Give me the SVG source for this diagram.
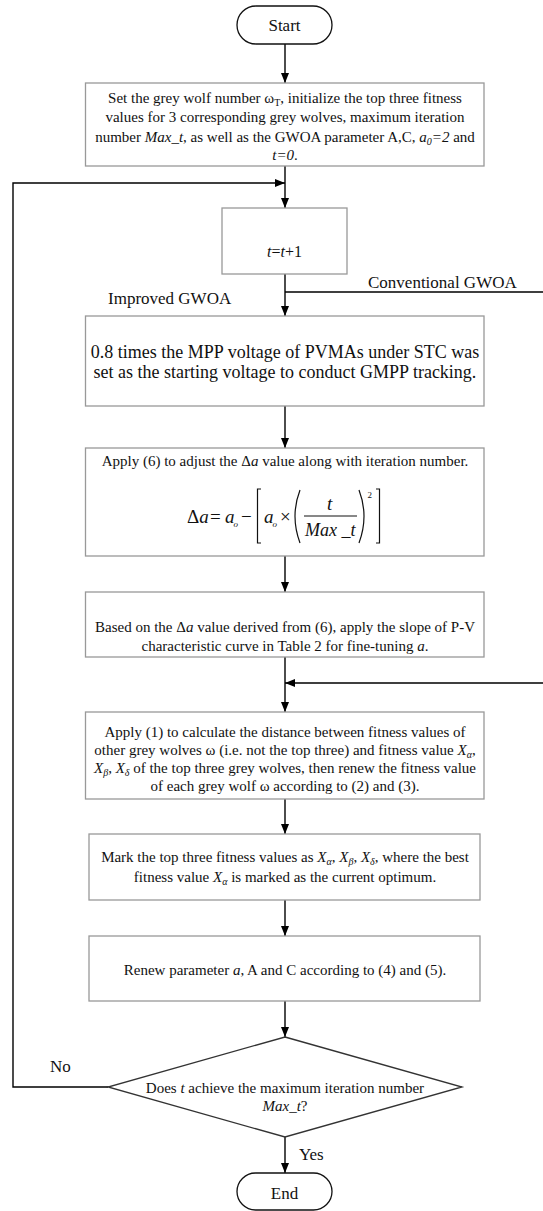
<svg xmlns="http://www.w3.org/2000/svg" width="543" height="1211" viewBox="0 0 543 1211" font-family="'Liberation Serif', 'Times New Roman', serif">
<defs>
<marker id="arr" markerUnits="userSpaceOnUse" markerWidth="10" markerHeight="10" refX="10" refY="5" orient="auto">
<path d="M0,1 L10,5 L0,9 Z" fill="#000"/>
</marker>
<style>
text{font-family:"Liberation Serif","Times New Roman",serif;fill:#111;}
.t15{font-family:"Liberation Serif",serif;font-size:15px;text-anchor:middle;}
.t18{font-family:"Liberation Serif",serif;font-size:18px;text-anchor:middle;}
.lbl{font-family:"Liberation Serif",serif;font-size:17px;}
.box{fill:#fff;stroke:#999;stroke-width:1.3;}
.term{fill:#fff;stroke:#111;stroke-width:1.3;}
.dia{fill:#fff;stroke:#333;stroke-width:1.3;}
.con{fill:none;stroke:#000;stroke-width:1.4;}
.eq{font-family:"Liberation Serif",serif;font-size:19px;font-style:italic;}
.eqn{font-family:"Liberation Serif",serif;font-size:19px;}
.sub{font-size:10px;}
.i{font-style:italic;}
</style>
</defs>

<g id="connectors">
<path class="con" d="M285,44 V83" marker-end="url(#arr)"/>
<path class="con" d="M285,166 V208" marker-end="url(#arr)"/>
<path class="con" d="M285,274 V316" marker-end="url(#arr)"/>
<path class="con" d="M285,292 H546 V683 H285" marker-end="url(#arr)"/>
<path class="con" d="M285,406 V448" marker-end="url(#arr)"/>
<path class="con" d="M285,556 V592" marker-end="url(#arr)"/>
<path class="con" d="M285,657 V712" marker-end="url(#arr)"/>
<path class="con" d="M285,799 V834" marker-end="url(#arr)"/>
<path class="con" d="M285,900 V936" marker-end="url(#arr)"/>
<path class="con" d="M285,1001 V1037" marker-end="url(#arr)"/>
<path class="con" d="M285,1137 V1173" marker-end="url(#arr)"/>
<path class="con" d="M108,1087 H13 V183 H285" marker-end="url(#arr)"/>
<text class="lbl" x="368" y="288">Conventional GWOA</text>
<text class="lbl" x="108" y="304">Improved GWOA</text>
<text class="lbl" x="50" y="1072">No</text>
<text class="lbl" x="299" y="1160">Yes</text>
</g>

<g id="start">
<rect class="term" x="237" y="6" width="95" height="38" rx="19"/>
<text class="t18" x="284.5" y="31" style="font-size:17px">Start</text>
</g>

<g id="init">
<rect class="box" x="85.5" y="83" width="398.5" height="83"/>
<text class="t15" x="285" y="103">Set the grey wolf number ω<tspan class="sub" dy="3">T</tspan><tspan dy="-3">, initialize the top three fitness</tspan></text>
<text class="t15" x="285" y="122">values for 3 corresponding grey wolves, maximum iteration</text>
<text class="t15" x="285" y="141.5">number <tspan class="i">Max_t</tspan>, as well as the GWOA parameter A,C, <tspan class="i">a</tspan><tspan class="i sub" dy="3">0</tspan><tspan class="i" dy="-3">=2</tspan> and</text>
<text class="t15" x="285" y="160"><tspan class="i">t=0</tspan>.</text>
</g>

<g id="increment">
<rect class="box" x="222" y="208" width="125" height="66"/>
<text class="t15" x="284.5" y="257" style="font-size:16px"><tspan class="i">t</tspan>=<tspan class="i">t</tspan>+1</text>
</g>

<g id="start-voltage">
<rect class="box" x="85.5" y="316" width="398.5" height="90"/>
<text class="t18" x="285" y="358">0.8 times the MPP voltage of PVMAs under STC was</text>
<text class="t18" x="285" y="378">set as the starting voltage to conduct GMPP tracking.</text>
</g>

<g id="adjust-a">
<rect class="box" x="85.5" y="448" width="398.5" height="108"/>
<text class="t15" x="285" y="466">Apply (6) to adjust the Δ<tspan class="i">a</tspan> value along with iteration number.</text>
<text class="eqn" x="187" y="523">Δ<tspan class="i">a</tspan></text>
<text class="eqn" x="210" y="523">=</text>
<text class="eq" x="225" y="523">a</text>
<text class="eq" x="233.5" y="527" style="font-size:9px">o</text>
<text class="eqn" x="241" y="523">−</text>
<text class="eq" x="264" y="523">a</text>
<text class="eq" x="272.5" y="527" style="font-size:9px">o</text>
<text class="eqn" x="280" y="523">×</text>
<text class="eq" x="327" y="510">t</text>
<text class="eq" x="305" y="536" style="font-size:18px">Max _t</text>
<text class="eqn" x="367.5" y="498" style="font-size:9px">2</text>
<path d="M261,489 H257.5 V543 H261 M376,489 H379.5 V543 H376" fill="none" stroke="#111" stroke-width="1.2"/>
<path d="M300,490 Q290,516 300,543 M359,490 Q369,516 359,543" fill="none" stroke="#111" stroke-width="1.2"/>
<path d="M304,516 H357" stroke="#111" stroke-width="1"/>
</g>

<g id="fine-tune">
<rect class="box" x="85.5" y="592" width="398.5" height="65"/>
<text class="t15" x="285" y="632">Based on the Δ<tspan class="i">a</tspan> value derived from (6), apply the slope of P-V</text>
<text class="t15" x="285" y="651">characteristic curve in Table 2 for fine-tuning <tspan class="i">a</tspan>.</text>
</g>

<g id="distance">
<rect class="box" x="85.5" y="712" width="398.5" height="87"/>
<text class="t15" x="285" y="737">Apply (1) to calculate the distance between fitness values of</text>
<text class="t15" x="285" y="755">other grey wolves ω (i.e. not the top three) and fitness value <tspan class="i">X</tspan><tspan class="i sub" dy="3">α</tspan><tspan dy="-3">,</tspan></text>
<text class="t15" x="285" y="773"><tspan class="i">X</tspan><tspan class="i sub" dy="3">β</tspan><tspan dy="-3">, </tspan><tspan class="i">X</tspan><tspan class="i sub" dy="3">δ</tspan><tspan dy="-3"> of the top three grey wolves, then renew the fitness value</tspan></text>
<text class="t15" x="285" y="791">of each grey wolf ω according to (2) and (3).</text>
</g>

<g id="mark">
<rect class="box" x="89" y="834" width="391" height="66"/>
<text class="t15" x="285" y="862">Mark the top three fitness values as <tspan class="i">X</tspan><tspan class="i sub" dy="3">α</tspan><tspan dy="-3">, </tspan><tspan class="i">X</tspan><tspan class="i sub" dy="3">β</tspan><tspan dy="-3">, </tspan><tspan class="i">X</tspan><tspan class="i sub" dy="3">δ</tspan><tspan dy="-3">, where the best</tspan></text>
<text class="t15" x="285" y="882">fitness value <tspan class="i">X</tspan><tspan class="i sub" dy="3">α</tspan><tspan dy="-3"> is marked as the current optimum.</tspan></text>
</g>

<g id="renew">
<rect class="box" x="89" y="936" width="391" height="65"/>
<text class="t15" x="285" y="975">Renew parameter <tspan class="i">a</tspan>, A and C according to (4) and (5).</text>
</g>

<g id="decision">
<path class="dia" d="M285,1037 L462,1087 L285,1137 L108,1087 Z"/>
<text class="t15" x="285" y="1093">Does <tspan class="i">t</tspan> achieve the maximum iteration number</text>
<text class="t15" x="285" y="1111"><tspan class="i">Max_t</tspan>?</text>
</g>

<g id="end">
<rect class="term" x="237" y="1173" width="95" height="37" rx="18.5"/>
<text class="t18" x="284.5" y="1199" style="font-size:17px">End</text>
</g>
</svg>
